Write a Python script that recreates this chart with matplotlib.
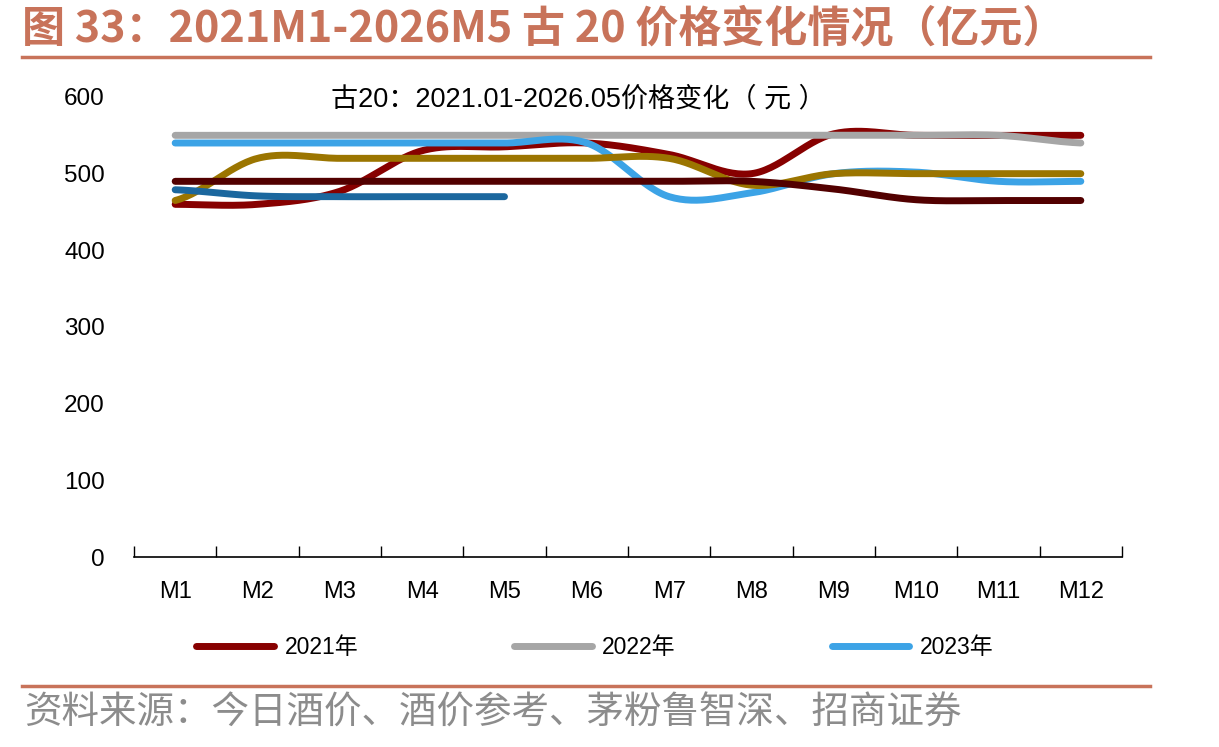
import numpy as np
import matplotlib

matplotlib.use("Agg")
import matplotlib.pyplot as plt
from matplotlib.lines import Line2D

plt.rcParams["font.family"] = ["Liberation Sans", "Noto Sans CJK SC", "DejaVu Sans"]

# --- data -----------------------------------------------------------------------
months = ["M1", "M2", "M3", "M4", "M5", "M6", "M7", "M8", "M9", "M10", "M11", "M12"]
p2021 = [460, 460, 477, 530, 535, 540, 525, 500, 552, 550, 550, 550]
p2022 = [550, 550, 550, 550, 550, 550, 550, 550, 550, 550, 550, 540]
p2023 = [540, 540, 540, 540, 540, 540, 470, 475, 500, 502, 490, 490]
p2024 = [465, 520, 520, 520, 520, 520, 520, 485, 500, 500, 500, 500]
p2025 = [490, 490, 490, 490, 490, 490, 490, 490, 480, 466, 465, 465]
p2026 = [479, 471, 470, 470, 470]

series = [
    ("2021年", p2021, "#870000"),
    ("2022年", p2022, "#a6a6a6"),
    ("2023年", p2023, "#3ca3e6"),
    ("2024年", p2024, "#9b7500"),
    ("2025年", p2025, "#520000"),
    ("2026年", p2026, "#1b679e"),
]
ACCENT = "#c8735a"


def smooth(y, n=30):
    """Excel-style smoothed line: Catmull-Rom through the monthly points."""
    y = np.asarray(y, float)
    x = np.arange(len(y), dtype=float)
    if len(y) < 3:
        return x, y
    ext = np.concatenate([[y[0]], y, [y[-1]]])
    xs, ys = [], []
    for i in range(len(y) - 1):
        p0, p1, p2, p3 = ext[i], ext[i + 1], ext[i + 2], ext[i + 3]
        m1 = (p2 - p0) / 2
        m2 = (p3 - p1) / 2
        t = np.linspace(0, 1, n, endpoint=(i == len(y) - 2))
        h00 = 2 * t**3 - 3 * t**2 + 1
        h10 = t**3 - 2 * t**2 + t
        h01 = -2 * t**3 + 3 * t**2
        h11 = t**3 - t**2
        xs.append(x[i] + t)
        ys.append(h00 * p1 + h10 * m1 + h01 * p2 + h11 * m2)
    return np.concatenate(xs), np.concatenate(ys)


fig = plt.figure(figsize=(12.19, 7.47), dpi=100)
ax = fig.add_axes([134 / 1219, 1 - 557 / 747, 988 / 1219, 460 / 747])

for name, vals, col in series:
    xs, ys = smooth(vals)
    ax.plot(xs, ys, color=col, lw=5, solid_capstyle="round", solid_joinstyle="round")

ax.set_xlim(-0.5, len(months) - 0.5)
ax.set_ylim(0, 600)
ax.set_yticks(range(0, 601, 100))
ax.set_xticks(np.arange(len(months)))
ax.set_xticklabels(months)
ax.set_xticks(np.arange(-0.5, len(months)), minor=True)
ax.tick_params(axis="x", which="major", length=0, pad=17, labelsize=17)
ax.tick_params(axis="x", which="minor", direction="in", length=8, width=1)
ax.tick_params(axis="y", length=0, pad=21, labelsize=17.5)
for s in ("top", "right", "left"):
    ax.spines[s].set_visible(False)
ax.spines["bottom"].set_linewidth(1.2)

ax.text(0.45, 0.994, "古20：2021.01-2026.05价格变化（ 元 ）", transform=ax.transAxes,
        ha="center", va="center", fontsize=19.5)

# only the first three legend entries fit in the original panel
handles = [Line2D([], [], color=c, lw=5, solid_capstyle="round") for _, _, c in series[:3]]
fig.legend(handles, [n for n, _, _ in series[:3]], loc="center",
           bbox_to_anchor=(0.488, 1 - 648 / 747), ncol=3, frameon=False,
           fontsize=16.5, handlelength=3.4, handletextpad=0.45, columnspacing=6.8)

# header and footer
fig.text(22 / 1219, 1 - 28 / 747, "图 33：2021M1-2026M5 古 20 价格变化情况（亿元）",
         fontsize=31, fontweight="bold", color=ACCENT, va="center", ha="left",
         family=["Noto Sans CJK SC"])
fig.add_artist(Line2D([22 / 1219, 1150 / 1219], [1 - 57 / 747] * 2, color=ACCENT, lw=2.5))
fig.add_artist(Line2D([22 / 1219, 1150 / 1219], [1 - 686 / 747] * 2, color=ACCENT, lw=2.5))
fig.text(24 / 1219, 1 - 713 / 747, "资料来源：今日酒价、酒价参考、茅粉鲁智深、招商证券",
         fontsize=27, color="#8c8c8c", va="center", ha="left", family=["Noto Sans CJK SC"])

fig.savefig("out.png", dpi=100, facecolor="white")
